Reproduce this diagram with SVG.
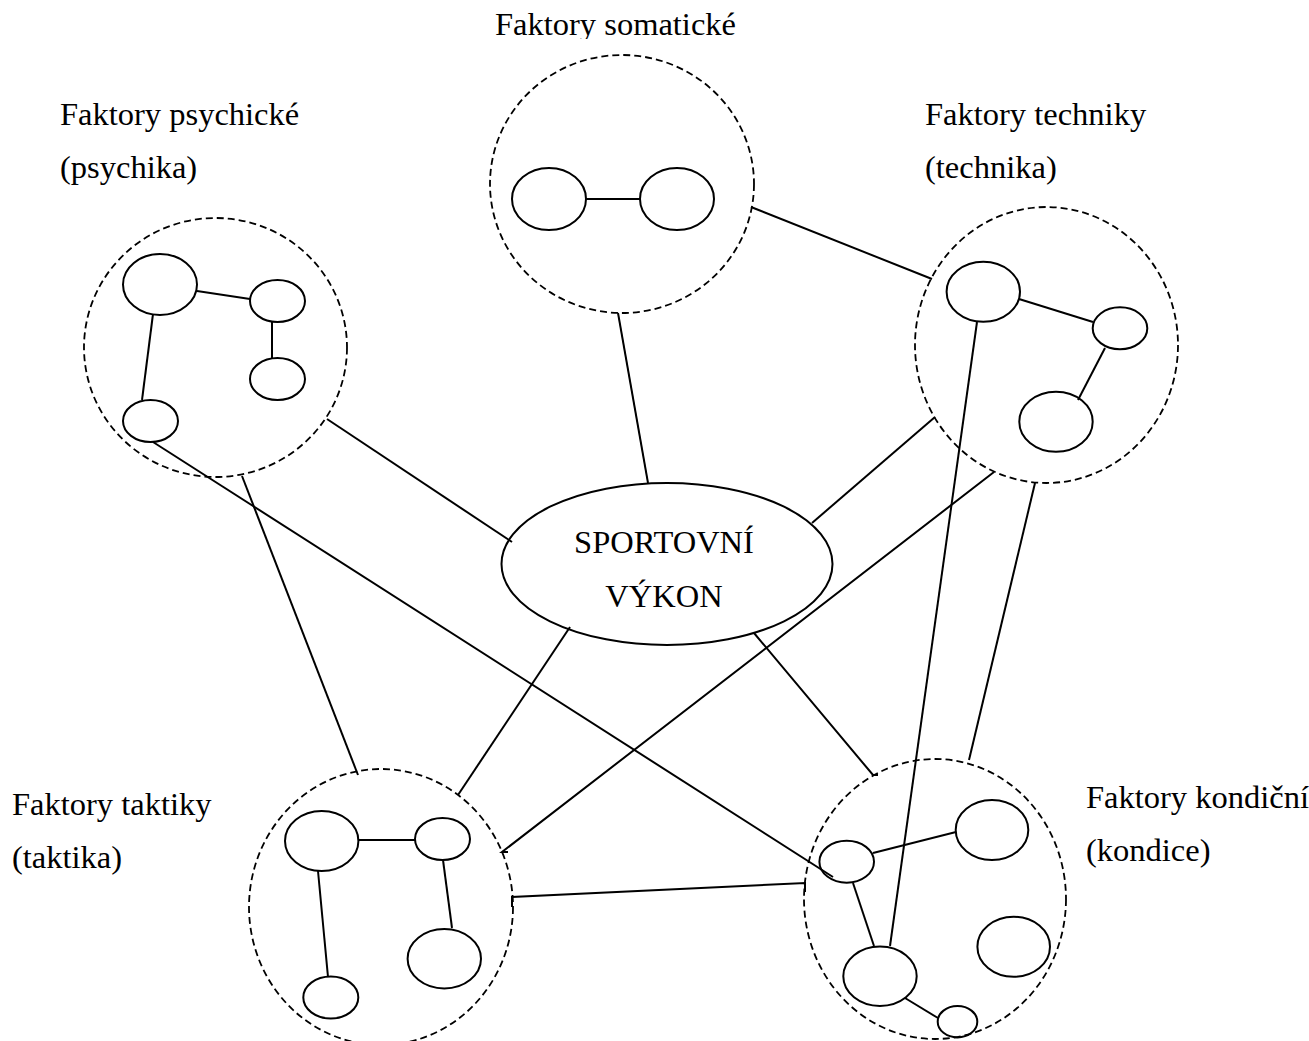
<svg xmlns="http://www.w3.org/2000/svg" width="1309" height="1041" viewBox="0 0 1309 1041">
<style>
.lbl{font-family:"Liberation Serif","Times New Roman",serif;font-size:32.5px;fill:#000}
.grp{fill:none;stroke:#000;stroke-width:1.8;stroke-dasharray:7 4}
.el{fill:none;stroke:#000;stroke-width:2}
.ln{fill:none;stroke:#000;stroke-width:2}
</style>
<defs>
<clipPath id="clipTop"><rect x="0" y="0" width="1309" height="39"/></clipPath>
<clipPath id="clipCenter"><rect x="480" y="480" width="370" height="127"/></clipPath>
</defs>
<rect width="1309" height="1041" fill="#fff"/>

<g id="connectors">
<path class="ln" d="M751,207 L932,279"/>
<path class="ln" d="M618,313 L648,483"/>
<path class="ln" d="M327,419 L512,542"/>
<path class="ln" d="M242,476 L358,775"/>
<path class="ln" d="M153,442 L833,877"/>
<path class="ln" d="M570,627 L458,795"/>
<path class="ln" d="M754,633 L873,775 L878,775"/>
<path class="ln" d="M812,523 L935,417"/>
<path class="ln" d="M994,472 L502,852 L508,852"/>
<path class="ln" d="M1035,483 L969,760"/>
<path class="ln" d="M512,907 V897 L805,883 V892"/>
</g>

<g id="center">
<ellipse class="el" cx="667" cy="564" rx="165.5" ry="81" fill="#fff"/>
<g clip-path="url(#clipCenter)">
<text class="lbl" x="664" y="553" text-anchor="middle">SPORTOVNÍ</text>
<text class="lbl" x="664" y="607" text-anchor="middle">VÝKON</text>
</g>
</g>

<g id="somatic">
<text class="lbl" x="495" y="35" clip-path="url(#clipTop)">Faktory somatické</text>
<ellipse class="grp" cx="622" cy="184" rx="132" ry="129"/>
<ellipse class="el" cx="549" cy="199" rx="37" ry="31"/>
<ellipse class="el" cx="677" cy="199" rx="37" ry="31"/>
<path class="ln" d="M586,199 H640"/>
</g>

<g id="psychic">
<text class="lbl" x="60" y="125">Faktory psychické</text>
<text class="lbl" x="60" y="178">(psychika)</text>
<ellipse class="grp" cx="215.5" cy="347.5" rx="131.5" ry="129.5"/>
<ellipse class="el" cx="160" cy="284.5" rx="37" ry="30.5"/>
<ellipse class="el" cx="277.5" cy="301" rx="27.5" ry="21"/>
<ellipse class="el" cx="277.5" cy="379" rx="27.5" ry="21"/>
<ellipse class="el" cx="150.5" cy="421" rx="27.5" ry="21"/>
<path class="ln" d="M197,291 L250,299"/>
<path class="ln" d="M272,322 V358"/>
<path class="ln" d="M153,314 L142,400"/>
</g>

<g id="technique">
<text class="lbl" x="925" y="125">Faktory techniky</text>
<text class="lbl" x="925" y="178">(technika)</text>
<ellipse class="grp" cx="1046.5" cy="345" rx="131.5" ry="138"/>
<ellipse class="el" cx="983.3" cy="291.7" rx="36.7" ry="30"/>
<ellipse class="el" cx="1120" cy="328.3" rx="27.3" ry="21"/>
<ellipse class="el" cx="1056" cy="421.7" rx="36.7" ry="30"/>
<path class="ln" d="M1019,299 L1093,322"/>
<path class="ln" d="M1105,348 L1078,400"/>
<path class="ln" d="M977,322 L890,946"/>
</g>

<g id="tactics">
<text class="lbl" x="12" y="815">Faktory taktiky</text>
<text class="lbl" x="12" y="868">(taktika)</text>
<ellipse class="grp" cx="381" cy="907" rx="132" ry="138"/>
<ellipse class="el" cx="321.7" cy="841" rx="36.7" ry="30"/>
<ellipse class="el" cx="442.5" cy="839" rx="27.5" ry="21"/>
<ellipse class="el" cx="444.3" cy="958.7" rx="36.7" ry="29.7"/>
<ellipse class="el" cx="330.8" cy="997.5" rx="27.5" ry="21"/>
<path class="ln" d="M358,840 H415"/>
<path class="ln" d="M443,860 L452,928"/>
<path class="ln" d="M318,871 L328,977"/>
</g>

<g id="condition">
<text class="lbl" x="1086" y="808">Faktory kondiční</text>
<text class="lbl" x="1086" y="861">(kondice)</text>
<ellipse class="grp" cx="935" cy="899" rx="131" ry="140"/>
<ellipse class="el" cx="846.7" cy="861.7" rx="27.3" ry="21"/>
<ellipse class="el" cx="992" cy="830" rx="36.3" ry="30"/>
<ellipse class="el" cx="1013.7" cy="946.7" rx="36.3" ry="30"/>
<ellipse class="el" cx="880" cy="976.3" rx="36.7" ry="29.7"/>
<ellipse class="el" cx="957.5" cy="1021.7" rx="19.8" ry="15.7"/>
<path class="ln" d="M873,853 L956,832"/>
<path class="ln" d="M853,883 L874,946"/>
<path class="ln" d="M905,998 L938,1018"/>
</g>
</svg>
